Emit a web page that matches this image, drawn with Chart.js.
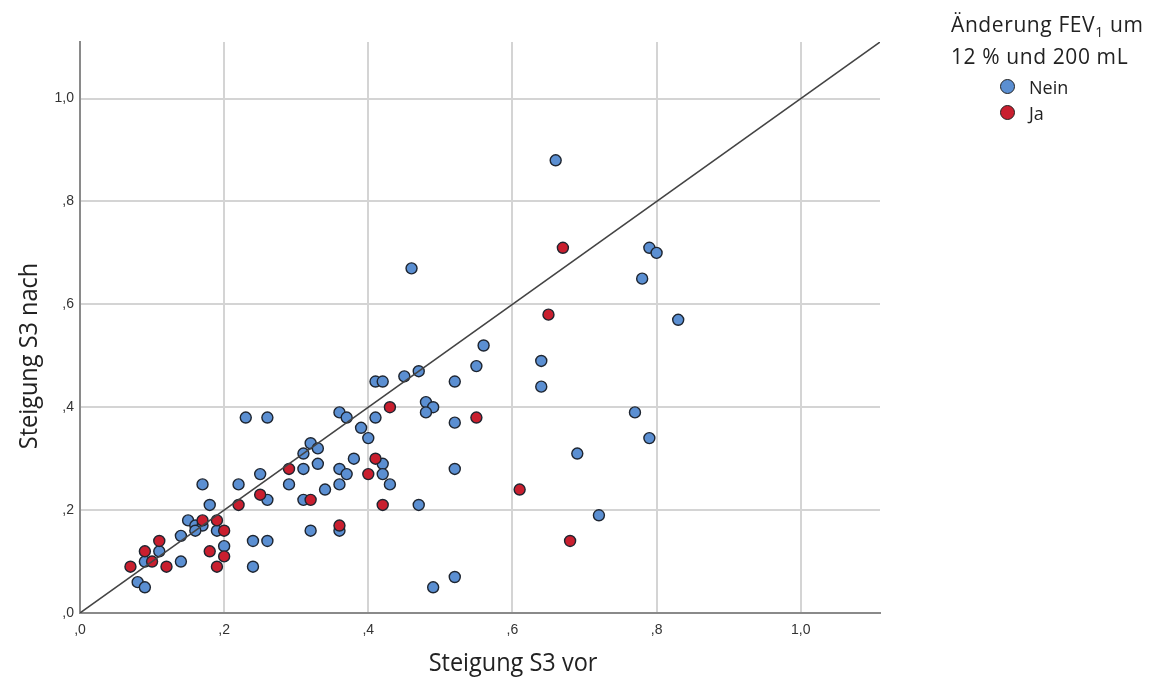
<!DOCTYPE html>
<html lang="de">
<head>
<meta charset="utf-8">
<title>Steigung S3 vor / nach</title>
<script src="https://cdn.jsdelivr.net/npm/chart.js@4/dist/chart.umd.min.js"></script>
<style>
    html, body { margin: 0; padding: 0; background: #fff; }
    #wrap { position: relative; width: 1154px; height: 682px; }
    #legend {
        position: absolute; left: 951px; top: 8px;
        font-family: "Open Sans", sans-serif; font-size: 21px; letter-spacing: 0.6px;
        color: #222; line-height: 32px;
    }
    #legend sub { font-size: 14px; line-height: 0; }
    #legend .item { position: relative; padding-left: 78px; line-height: 26px; font-size: 18px; letter-spacing: 0; }
    #legend .item.first { margin-top: 2px; }
    #legend .dot {
        position: absolute; left: 49px; top: 5px; width: 15px; height: 15px;
        border-radius: 50%; border: 1.5px solid #222; box-sizing: border-box;
    }
</style>
</head>
<body>
<div id="wrap">
    <canvas id="scatter" width="1154" height="682"></canvas>
    <div id="legend"></div>
</div>
<script>
// Series: [Steigung S3 vor, Steigung S3 nach]
const seriesNames = ['Nein', 'Ja'];
const seriesColors = ['#5b8fd2', '#c91f2f'];

const neinPoints = [
    [0.66, 0.88], [0.79, 0.71], [0.80, 0.70], [0.78, 0.65], [0.83, 0.57], [0.46, 0.67],
    [0.56, 0.52], [0.64, 0.49], [0.64, 0.44], [0.55, 0.48], [0.52, 0.45], [0.77, 0.39],
    [0.79, 0.34], [0.69, 0.31], [0.72, 0.19], [0.52, 0.37], [0.52, 0.28], [0.52, 0.07],
    [0.49, 0.05], [0.47, 0.21], [0.47, 0.47], [0.45, 0.46], [0.41, 0.45], [0.42, 0.45],
    [0.48, 0.41], [0.49, 0.40], [0.48, 0.39], [0.41, 0.38], [0.36, 0.39], [0.37, 0.38],
    [0.39, 0.36], [0.40, 0.34], [0.32, 0.33], [0.33, 0.32], [0.31, 0.31], [0.23, 0.38],
    [0.26, 0.38], [0.38, 0.30], [0.42, 0.29], [0.33, 0.29], [0.31, 0.28], [0.36, 0.28],
    [0.37, 0.27], [0.42, 0.27], [0.25, 0.27], [0.17, 0.25], [0.22, 0.25], [0.29, 0.25],
    [0.36, 0.25], [0.43, 0.25], [0.34, 0.24], [0.26, 0.22], [0.31, 0.22], [0.18, 0.21],
    [0.32, 0.16], [0.36, 0.16], [0.15, 0.18], [0.16, 0.17], [0.17, 0.17], [0.19, 0.16],
    [0.16, 0.16], [0.14, 0.15], [0.20, 0.13], [0.24, 0.14], [0.26, 0.14], [0.11, 0.12],
    [0.09, 0.10], [0.14, 0.10], [0.24, 0.09], [0.08, 0.06], [0.09, 0.05]
];

const jaPoints = [
    [0.67, 0.71], [0.65, 0.58], [0.55, 0.38], [0.61, 0.24], [0.68, 0.14], [0.43, 0.40],
    [0.41, 0.30], [0.40, 0.27], [0.29, 0.28], [0.25, 0.23], [0.32, 0.22], [0.22, 0.21],
    [0.42, 0.21], [0.36, 0.17], [0.17, 0.18], [0.19, 0.18], [0.20, 0.16], [0.11, 0.14],
    [0.09, 0.12], [0.18, 0.12], [0.20, 0.11], [0.10, 0.10], [0.07, 0.09], [0.12, 0.09],
    [0.19, 0.09]
];

const axisMax = 1.11;
const tickStep = 0.2;
const xTitle = 'Steigung S3 vor';
const yTitle = 'Steigung S3 nach';

// SPSS style labels: ",2" instead of "0,2"
function spssTick(v) {
    const s = v.toFixed(1).replace('.', ',');
    return s.startsWith('0') ? s.slice(1) : s;
}

const toXY = pts => pts.map(p => ({ x: p[0], y: p[1] }));

// axis titles drawn by hand so they can sit off-centre like the original
// (the original font is taller and narrower than Open Sans, hence the squeeze)
const axisTitles = {
    id: 'axisTitles',
    afterDraw(chart) {
        const ctx = chart.ctx;
        ctx.save();
        ctx.fillStyle = '#222';
        ctx.font = '25px "Open Sans"';
        ctx.textAlign = 'center';
        ctx.textBaseline = 'middle';

        ctx.save();
        ctx.translate(513, 664);
        ctx.scale(0.94, 1);
        ctx.fillText(xTitle, 0, 0);
        ctx.restore();

        ctx.translate(30, 356);
        ctx.rotate(-Math.PI / 2);
        ctx.scale(0.94, 1);
        ctx.fillText(yTitle, 0, 0);
        ctx.restore();
    }
};

const pointStyle = color => ({
    type: 'scatter',
    backgroundColor: color,
    borderColor: '#1e2530',
    borderWidth: 1.4,
    pointRadius: 5.5,
    pointHoverRadius: 5.5
});

new Chart(document.getElementById('scatter'), {
    data: {
        datasets: [
            {
                type: 'line',
                data: [{ x: 0, y: 0 }, { x: axisMax, y: axisMax }],
                borderColor: '#444',
                borderWidth: 1.5,
                pointRadius: 0,
                order: 0
            },
            { ...pointStyle(seriesColors[1]), label: seriesNames[1], data: toXY(jaPoints), order: 1 },
            { ...pointStyle(seriesColors[0]), label: seriesNames[0], data: toXY(neinPoints), order: 2 }
        ]
    },
    options: {
        responsive: false,
        animation: false,
        layout: { padding: { top: 42, right: 274, left: 0, bottom: 0 } },
        plugins: { legend: { display: false }, tooltip: { enabled: false } },
        scales: {
            x: {
                type: 'linear', min: 0, max: axisMax,
                afterFit: s => { s.height = 69; },
                grid: { color: '#d4d4d4', lineWidth: 2, drawTicks: false },
                border: { color: '#8a8a8a', width: 2 },
                ticks: {
                    stepSize: tickStep, includeBounds: false, padding: 9,
                    color: '#333', font: { family: 'Liberation Sans', size: 14 },
                    callback: spssTick
                }
            },
            y: {
                type: 'linear', min: 0, max: axisMax,
                afterFit: s => { s.width = 80; },
                grid: { color: '#d4d4d4', lineWidth: 2, drawTicks: false },
                border: { color: '#8a8a8a', width: 2 },
                ticks: {
                    stepSize: tickStep, includeBounds: false, padding: 6,
                    color: '#333', font: { family: 'Liberation Sans', size: 14 },
                    callback: spssTick
                }
            }
        }
    },
    plugins: [axisTitles]
});

// legend as plain html next to the chart
document.getElementById('legend').innerHTML = `
    <div>Änderung FEV<sub>1</sub> um</div>
    <div>12 % und 200 mL</div>
    ${seriesNames.map((n, i) => `
        <div class="item${i === 0 ? ' first' : ''}"><span class="dot" style="background:${seriesColors[i]}"></span>${n}</div>
    `).join('')}
`;
</script>
</body>
</html>
